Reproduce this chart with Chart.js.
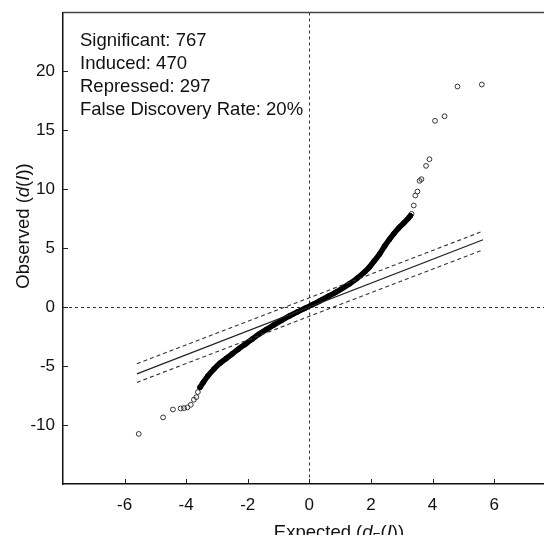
<!DOCTYPE html>
<html><head><meta charset="utf-8">
<script src="https://cdn.jsdelivr.net/npm/chart.js@4.4.1/dist/chart.umd.min.js"></script>
<style>html,body{margin:0;padding:0;background:#fff;overflow:hidden}#wrap{width:544px;height:535px;position:relative}</style>
</head><body><div id="wrap"><canvas id="c" width="544" height="535"></canvas></div>
<script>
// ---- data ----
const annotationLines = ["Significant: 767", "Induced: 470", "Repressed: 297", "False Discovery Rate: 20%"];
const xTickValues = [-6, -4, -2, 0, 2, 4, 6];
const yTickValues = [-10, -5, 0, 5, 10, 15, 20];

// dense body of the observed vs expected curve
const denseExpected = [-3.55,-3.45,-3.30,-3.10,-2.90,-2.70,-2.50,-2.30,-2.06,-1.85,-1.63,-1.40,-1.15,-0.90,-0.65,-0.40,-0.15,0.10,0.35,0.60,0.85,1.10,1.30,1.55,1.80,1.95,2.10,2.28,2.45,2.60,2.75,2.90,3.05,3.20,3.28];
const denseObserved = [-6.80,-6.40,-5.85,-5.25,-4.75,-4.35,-3.95,-3.55,-3.10,-2.70,-2.28,-1.90,-1.50,-1.12,-0.75,-0.42,-0.10,0.22,0.55,0.90,1.25,1.65,1.98,2.45,3.00,3.40,3.90,4.50,5.20,5.75,6.25,6.70,7.10,7.50,7.75];

// sparse tails
const tailExpected = [-5.54,-4.75,-4.43,-4.18,-4.07,-3.96,-3.85,-3.75,-3.67,-3.62, 3.32,3.39,3.44,3.51,3.58,3.64,3.79,3.90,4.08,4.39,4.81,5.60];
const tailObserved = [-10.75,-9.35,-8.68,-8.59,-8.56,-8.50,-8.28,-7.85,-7.63,-7.20, 7.92,8.63,9.47,9.81,10.72,10.86,11.99,12.55,15.81,16.20,18.72,18.89];

// reference line and its +/- delta band
const lineExpected = [-5.60, 5.64];
const lineObserved = [-5.65, 5.72];
const upperObserved = [-4.80, 6.45];
const lowerObserved = [-6.38, 4.87];

const xMin = -8, xMax = 7.62, yMin = -15, yMax = 25;

const pts = (xs, ys) => xs.map((v, i) => ({x: v, y: ys[i]}));
const FONT = "'Liberation Sans', Arial, Helvetica, sans-serif";
const INK = '#111';

const noScalePadding = s => { s.paddingTop = 0; s.paddingBottom = 0; s.paddingLeft = 0; s.paddingRight = 0; };

const framePlugin = {
  id: 'frame',
  beforeDatasetsDraw(chart) {
    const {ctx, chartArea: a, scales: {x, y}} = chart;
    ctx.save();
    ctx.strokeStyle = '#333'; ctx.lineWidth = 1; ctx.setLineDash([3, 3]);
    const x0 = Math.round(x.getPixelForValue(0)) + 0.5;
    const y0 = Math.round(y.getPixelForValue(0)) + 0.5;
    ctx.beginPath();
    ctx.moveTo(x0, a.top); ctx.lineTo(x0, a.bottom);
    ctx.moveTo(a.left, y0); ctx.lineTo(a.right, y0);
    ctx.stroke();
    ctx.restore();
  },
  afterDraw(chart) {
    const {ctx, chartArea: a, scales: {x, y}} = chart;
    ctx.save();
    // top frame line
    ctx.strokeStyle = '#444'; ctx.lineWidth = 1.5;
    ctx.beginPath(); ctx.moveTo(a.left, a.top); ctx.lineTo(a.right, a.top); ctx.stroke();
    // inward tick marks
    ctx.strokeStyle = '#222'; ctx.lineWidth = 1;
    ctx.beginPath();
    xTickValues.forEach(v => { const p = Math.round(x.getPixelForValue(v)) + 0.5; ctx.moveTo(p, a.bottom); ctx.lineTo(p, a.bottom - 5); });
    yTickValues.forEach(v => { const p = Math.round(y.getPixelForValue(v)) + 0.5; ctx.moveTo(a.left, p); ctx.lineTo(a.left + 5, p); });
    ctx.stroke();

    // annotation block
    ctx.fillStyle = INK;
    ctx.font = `18.5px ${FONT}`;
    ctx.textBaseline = 'middle'; ctx.textAlign = 'left';
    annotationLines.forEach((t, i) => ctx.fillText(t, 80, 41 + i * 23));

    const runsWidth = (runs) => {
      let w = 0;
      runs.forEach(r => { ctx.font = r.f; w += ctx.measureText(r.t).width; });
      return w;
    };
    // x axis title: Expected (d_E(I))
    const xr = [
      {t: 'Expected (', f: `18.5px ${FONT}`, dy: 0},
      {t: 'd', f: `italic 18.5px ${FONT}`, dy: 0},
      {t: 'E', f: `12px ${FONT}`, dy: 4},
      {t: '(', f: `18.5px ${FONT}`, dy: 0},
      {t: 'I', f: `italic 18.5px ${FONT}`, dy: 0},
      {t: '))', f: `18.5px ${FONT}`, dy: 0}
    ];
    ctx.textBaseline = 'alphabetic';
    let tw = runsWidth(xr);
    let cx = 339 - tw / 2;
    xr.forEach(r => { ctx.font = r.f; ctx.fillText(r.t, cx, 538 + r.dy); cx += ctx.measureText(r.t).width; });

    // y axis title: Observed (d(I))
    const yr = [
      {t: 'Observed (', f: `18.5px ${FONT}`},
      {t: 'd', f: `italic 18.5px ${FONT}`},
      {t: '(', f: `18.5px ${FONT}`},
      {t: 'I', f: `italic 18.5px ${FONT}`},
      {t: '))', f: `18.5px ${FONT}`}
    ];
    ctx.translate(28.5, 226);
    ctx.rotate(-Math.PI / 2);
    tw = runsWidth(yr);
    cx = -tw / 2;
    yr.forEach(r => { ctx.font = r.f; ctx.fillText(r.t, cx, 0); cx += ctx.measureText(r.t).width; });
    ctx.restore();
  }
};

new Chart(document.getElementById('c'), {
  type: 'scatter',
  data: {
    datasets: [
      {label: 'upper band', data: pts(lineExpected, upperObserved), showLine: true, borderColor: '#333', borderWidth: 1.1, borderDash: [4, 3], pointRadius: 0},
      {label: 'lower band', data: pts(lineExpected, lowerObserved), showLine: true, borderColor: '#333', borderWidth: 1.1, borderDash: [4, 3], pointRadius: 0},
      {label: 'reference', data: pts(lineExpected, lineObserved), showLine: true, borderColor: '#222', borderWidth: 1.3, pointRadius: 0},
      {label: 'genes (dense)', data: pts(denseExpected, denseObserved), showLine: true, borderColor: '#000', borderWidth: 5.5, borderCapStyle: 'round', borderJoinStyle: 'round', cubicInterpolationMode: 'monotone', pointRadius: 2.4, pointBorderWidth: 1, pointBorderColor: '#000', pointBackgroundColor: '#000'},
      {label: 'genes (tails)', data: pts(tailExpected, tailObserved), showLine: false, pointRadius: 2.4, pointBorderWidth: 1, pointBorderColor: '#333', pointBackgroundColor: 'rgba(255,255,255,0)'}
    ]
  },
  options: {
    responsive: false,
    animation: false,
    layout: {autoPadding: false, padding: {top: 12.5, right: 0, left: 0, bottom: 0}},
    plugins: {legend: {display: false}, tooltip: {enabled: false}},
    scales: {
      x: {
        type: 'linear', position: 'bottom', min: xMin, max: xMax,
        grid: {display: false, drawTicks: false},
        border: {display: true, color: '#111', width: 1.5},
        ticks: {font: {family: FONT, size: 17}, color: INK, padding: 11, maxRotation: 0, autoSkip: false},
        afterBuildTicks: s => { s.ticks = xTickValues.map(v => ({value: v})); },
        afterFit: s => { s.height = 51; noScalePadding(s); }
      },
      y: {
        type: 'linear', min: yMin, max: yMax,
        grid: {display: false, drawTicks: false},
        border: {display: true, color: '#111', width: 1.5},
        ticks: {font: {family: FONT, size: 17}, color: INK, padding: 8, autoSkip: false},
        afterBuildTicks: s => { s.ticks = yTickValues.map(v => ({value: v})); },
        afterFit: s => { s.width = 63; noScalePadding(s); }
      }
    }
  },
  plugins: [framePlugin]
});
</script>
</body></html>
